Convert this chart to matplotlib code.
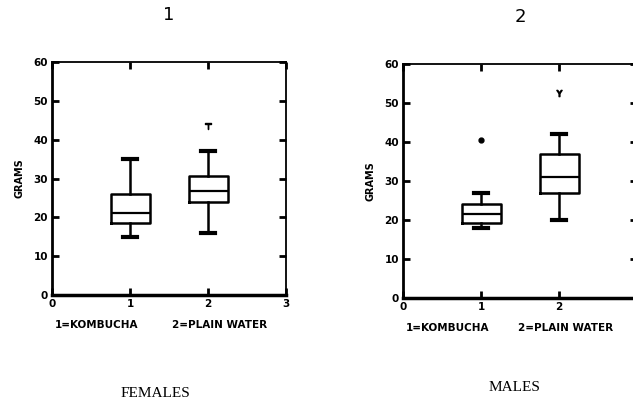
import matplotlib
matplotlib.use("Agg")
import matplotlib.pyplot as plt
from matplotlib.transforms import blended_transform_factory

# Data (grams)
groups = ["1", "2"]
panel_titles = ["1", "2"]
panel_names = ["FEMALES", "MALES"]

fem_whislo = [15, 16]
fem_q1 = [18.5, 24]
fem_med = [21, 26.7]
fem_q3 = [26, 30.7]
fem_whishi = [35, 37]
fem_fliers = [[], [43.5]]

male_whislo = [18, 20]
male_q1 = [19.3, 27]
male_med = [21.5, 31]
male_q3 = [24, 37]
male_whishi = [27, 42]
male_fliers = [[40.5], [52.5]]

group_labels = ["1=KOMBUCHA", "2=PLAIN WATER"]
ylabel = "GRAMS"

fig = plt.figure(figsize=(6.33, 4.04), dpi=100)
fig.patch.set_facecolor("white")

axes_pos = [[0.0822, 0.2698, 0.3697, 0.5767],
            [0.6367, 0.2624, 0.3697, 0.579]]
flier_marks = [["", "$\\mathsf{T}$"], ["o", "$\\mathsf{Y}$"]]
label_x = [[0.04, 1.54], [0.03, 1.47]]

datasets = [
    (fem_whislo, fem_q1, fem_med, fem_q3, fem_whishi, fem_fliers),
    (male_whislo, male_q1, male_med, male_q3, male_whishi, male_fliers),
]

for i, (wl, q1, md, q3, wh, fl) in enumerate(datasets):
    ax = fig.add_axes(axes_pos[i])
    stats = []
    for j in range(len(groups)):
        stats.append(dict(whislo=wl[j], q1=q1[j], med=md[j], q3=q3[j],
                          whishi=wh[j], fliers=[], label=groups[j]))
    ax.bxp(stats, positions=[1, 2], widths=0.5, showfliers=False,
           boxprops=dict(color="black", linewidth=1.8),
           medianprops=dict(color="black", linewidth=1.6),
           whiskerprops=dict(color="black", linewidth=1.8),
           capprops=dict(color="black", linewidth=3.0),
           capwidths=0.18)
    for j in range(len(groups)):
        if fl[j]:
            m = flier_marks[i][j]
            ax.plot([j + 1] * len(fl[j]), fl[j], linestyle="none",
                    marker=m, color="black",
                    markersize=3.5 if m == "o" else 4.5)
    ax.set_xlim(0, 3)
    ax.set_ylim(0, 60)
    ax.set_xticks([0, 1, 2, 3])
    ax.set_xticklabels(["0", "1", "2", "3"])
    ax.set_yticks(range(0, 61, 10))
    ax.tick_params(direction="in", length=5, width=2, top=True, right=True,
                   labelsize=7.5, pad=3)
    for lab in ax.get_xticklabels() + ax.get_yticklabels():
        lab.set_fontweight("bold")
    for s in ax.spines.values():
        s.set_linewidth(1.3)
    ax.spines["bottom"].set_linewidth(2.5)
    ax.spines["left"].set_linewidth(2.0)
    trans = blended_transform_factory(ax.transData, ax.transAxes)
    for k, gl in enumerate(group_labels):
        ax.text(label_x[i][k], -0.13, gl, transform=trans, fontsize=7.5,
                fontweight="bold", ha="left", va="center")
    ax.set_ylabel(ylabel, fontsize=7, fontweight="bold", labelpad=6)
    ax.set_title(panel_titles[i], fontsize=13, pad=30)

fig.text(0.245, 0.027, panel_names[0], fontsize=11, family="Liberation Serif",
         ha="center", va="center")
fig.text(0.813, 0.04, panel_names[1], fontsize=11, family="Liberation Serif",
         ha="center", va="center")

fig.savefig("out.png", dpi=100, facecolor="white")
